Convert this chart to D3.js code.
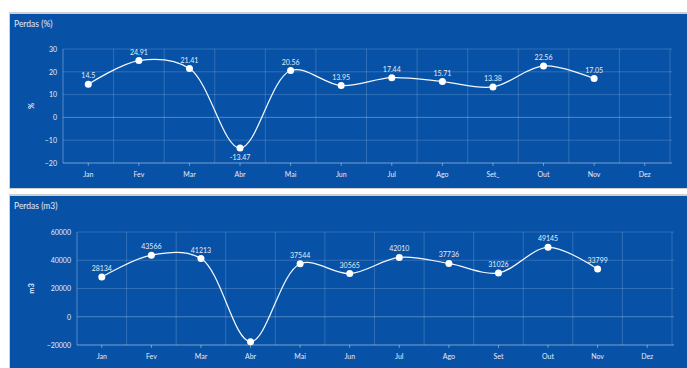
<!DOCTYPE html>
<html>
<head>
<meta charset="utf-8">
<script src="https://cdn.jsdelivr.net/npm/d3@7"></script>
<style>
  html, body { margin: 0; padding: 0; background: #ffffff; }
  svg { display: block; }
  text { font-family: Lato, "Open Sans", sans-serif; }
</style>
</head>
<body>
<svg id="chart" width="687" height="368"></svg>
<script>
// Monthly categories and tick labels
const months = ["Jan", "Fev", "Mar", "Abr", "Mai", "Jun", "Jul", "Ago", "Set", "Out", "Nov", "Dez"];
const monthLabelsPct = ["Jan", "Fev", "Mar", "Abr", "Mai", "Jun", "Jul", "Ago", "Set_", "Out", "Nov", "Dez"];
const monthLabelsVol = ["Jan", "Fev", "Mar", "Abr", "Mai", "Jun", "Jul", "Ago", "Set", "Out", "Nov", "Dez"];

// Losses in percent (no value for December yet)
const lossPct = [14.5, 24.91, 21.41, -13.47, 20.56, 13.95, 17.44, 15.71, 13.38, 22.56, 17.05, null];
// Losses in cubic metres
const lossVol = [28134, 43566, 41213, -17660, 37544, 30565, 42010, 37736, 31026, 49145, 33799, null];
// Which volume values carry a printed label
const lossVolShowLabel = [true, true, true, false, true, true, true, true, true, true, true, false];

// Axis ticks
const pctTicks = [-20, -10, 0, 10, 20, 30];
const volTicks = [-20000, 0, 20000, 40000, 60000];

const svg = d3.select("#chart");
const BLUE = "#0752a7";
const GRID = "rgba(255,255,255,0.17)";
const TEXT = "#e3ebf6";

function panel(cfg) {
  const g = svg.append("g");
  // frame and background
  g.append("rect")
    .attr("x", cfg.box.x - 1).attr("y", cfg.box.y - 2)
    .attr("width", cfg.box.w + 2).attr("height", cfg.box.h + 3)
    .attr("fill", "#cfcfcf");
  g.append("rect")
    .attr("x", cfg.box.x).attr("y", cfg.box.y)
    .attr("width", cfg.box.w).attr("height", cfg.box.h)
    .attr("fill", BLUE);

  g.append("text")
    .attr("x", cfg.box.x + 4).attr("y", cfg.box.y + 13)
    .attr("fill", TEXT).attr("font-size", 8.5)
    .text(cfg.title);

  const x = d3.scaleBand().domain(months).range([cfg.left, cfg.right]);
  const y = d3.scaleLinear().domain(cfg.domain).range([cfg.bottom, cfg.top]);

  // horizontal grid
  g.append("g").selectAll("line").data(cfg.ticks).join("line")
    .attr("x1", cfg.left).attr("x2", cfg.right + 2)
    .attr("y1", d => y(d)).attr("y2", d => y(d))
    .attr("stroke", d => d === 0 ? "rgba(255,255,255,0.3)" : GRID)
    .attr("stroke-width", 1);

  // vertical grid at band boundaries
  const bounds = months.map(m => x(m)).concat([cfg.right]);
  g.append("g").selectAll("line").data(bounds).join("line")
    .attr("x1", d => d).attr("x2", d => d)
    .attr("y1", cfg.top).attr("y2", cfg.bottom)
    .attr("stroke", (d, i) => (i === 0) ? "rgba(255,255,255,0.32)" : GRID)
    .attr("stroke-width", 1);

  // bottom axis line
  g.append("line")
    .attr("x1", cfg.left).attr("x2", cfg.right + 2)
    .attr("y1", cfg.bottom).attr("y2", cfg.bottom)
    .attr("stroke", "rgba(255,255,255,0.32)");

  // x axis
  const xAxis = d3.axisBottom(x).tickSize(3).tickPadding(6)
    .tickFormat((d, i) => cfg.xLabels[i]);
  const xg = g.append("g").attr("transform", `translate(0,${cfg.bottom})`).call(xAxis);
  xg.select(".domain").remove();
  xg.selectAll(".tick line").attr("stroke", "rgba(255,255,255,0.4)");
  xg.selectAll(".tick text").attr("fill", TEXT).attr("font-size", 7)
    .attr("font-family", "Lato, 'Open Sans', sans-serif");

  // y axis
  const yAxis = d3.axisLeft(y).tickValues(cfg.ticks).tickSize(0).tickPadding(6)
    .tickFormat(d3.format("d"));
  const yg = g.append("g").attr("transform", `translate(${cfg.left},0)`).call(yAxis);
  yg.select(".domain").remove();
  yg.selectAll(".tick text").attr("fill", TEXT).attr("font-size", 7)
    .attr("font-family", "Lato, 'Open Sans', sans-serif");

  g.append("text")
    .attr("transform", `translate(${cfg.box.x + 24},${(cfg.top + cfg.bottom) / 2}) rotate(-90)`)
    .attr("text-anchor", "middle").attr("fill", TEXT).attr("font-size", 7.5)
    .attr("font-weight", "bold")
    .text(cfg.yTitle);

  const pts = months.map((m, i) => ({ m, v: cfg.values[i], i })).filter(d => d.v !== null);
  const cx = d => x(d.m) + x.bandwidth() / 2;

  const line = d3.line().x(cx).y(d => y(d.v)).curve(d3.curveCatmullRom.alpha(0.5));
  g.append("path").datum(pts)
    .attr("d", line).attr("fill", "none")
    .attr("stroke", "#f4f7fc").attr("stroke-width", 1.25);

  g.append("g").selectAll("circle").data(pts).join("circle")
    .attr("cx", cx).attr("cy", d => y(d.v)).attr("r", 3.5)
    .attr("fill", "#ffffff");

  g.append("g").selectAll("text").data(pts.filter(d => cfg.showLabel[d.i])).join("text")
    .attr("x", cx)
    .attr("y", d => d.v < 0 ? y(d.v) + 12 : y(d.v) - 6)
    .attr("text-anchor", "middle").attr("fill", TEXT).attr("font-size", 7)
    .text(d => cfg.fmt(d.v));
}

panel({
  box: { x: 10, y: 14, w: 677, h: 174 },
  title: "Perdas (%)",
  yTitle: "%",
  left: 63, right: 670, top: 49, bottom: 163,
  domain: [-20, 30], ticks: pctTicks,
  values: lossPct, xLabels: monthLabelsPct,
  showLabel: lossPct.map(v => v !== null),
  fmt: v => String(v)
});

panel({
  box: { x: 10, y: 196, w: 677, h: 172 },
  title: "Perdas (m3)",
  yTitle: "m3",
  left: 77, right: 672, top: 232, bottom: 345,
  domain: [-20000, 60000], ticks: volTicks,
  values: lossVol, xLabels: monthLabelsVol,
  showLabel: lossVolShowLabel,
  fmt: v => String(v)
});
</script>
</body>
</html>
